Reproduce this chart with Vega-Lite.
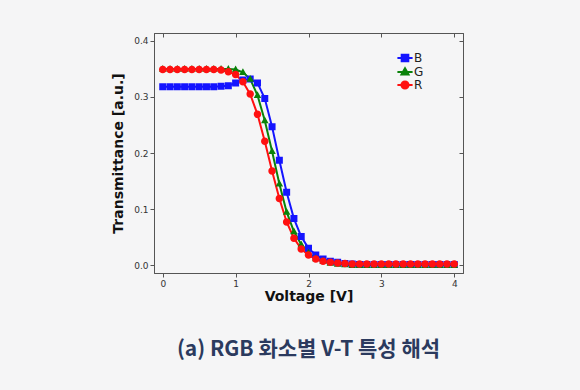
{
"$schema":"https://vega.github.io/schema/vega-lite/v6.json",
"width":309,"height":240,
"autosize":{"type":"none"},
"padding":{"left":154,"top":33,"right":117,"bottom":117},
"background":"#f5f5f6",
"title":{"text":"(a) RGB 화소별 V-T 특성 해석","orient":"bottom","anchor":"middle","font":"Noto Sans CJK KR","fontSize":21,"fontWeight":"bold","color":"#2b3a5e","offset":36},
"config":{
 "view":{"stroke":"#555","strokeWidth":1},
 "axis":{"grid":false,"domainColor":"#555","tickColor":"#555","tickSize":4,"labelFont":"DejaVu Sans","labelFontSize":9,"labelColor":"#333","titleFont":"DejaVu Sans","titleFontSize":14,"titleFontWeight":"bold","titleColor":"#111"},
 "legend":{"title":null,"orient":"none","legendX":245,"legendY":19,"symbolSize":90,"symbolStrokeWidth":2,"labelFont":"DejaVu Sans","labelFontSize":12,"labelColor":"#222","rowPadding":-8,"labelOffset":3}
},
"datasets":{"d":[
{"v":0,"s":"B","t":0.318},{"v":0.1,"s":"B","t":0.318},{"v":0.2,"s":"B","t":0.318},{"v":0.3,"s":"B","t":0.318},{"v":0.4,"s":"B","t":0.318},{"v":0.5,"s":"B","t":0.318},{"v":0.6,"s":"B","t":0.318},{"v":0.7,"s":"B","t":0.318},{"v":0.8,"s":"B","t":0.319},{"v":0.9,"s":"B","t":0.32},{"v":1.0,"s":"B","t":0.325},{"v":1.1,"s":"B","t":0.33},{"v":1.2,"s":"B","t":0.332},{"v":1.3,"s":"B","t":0.325},{"v":1.4,"s":"B","t":0.297},{"v":1.5,"s":"B","t":0.247},{"v":1.6,"s":"B","t":0.187},{"v":1.7,"s":"B","t":0.13},{"v":1.8,"s":"B","t":0.083},{"v":1.9,"s":"B","t":0.051},{"v":2.0,"s":"B","t":0.03},{"v":2.1,"s":"B","t":0.018},{"v":2.2,"s":"B","t":0.011},{"v":2.3,"s":"B","t":0.007},{"v":2.4,"s":"B","t":0.005},{"v":2.5,"s":"B","t":0.003},{"v":2.6,"s":"B","t":0.002},{"v":2.7,"s":"B","t":0.001},{"v":2.8,"s":"B","t":0.001},{"v":2.9,"s":"B","t":0.001},{"v":3.0,"s":"B","t":0.001},{"v":3.1,"s":"B","t":0.001},{"v":3.2,"s":"B","t":0.001},{"v":3.3,"s":"B","t":0.001},{"v":3.4,"s":"B","t":0.001},{"v":3.5,"s":"B","t":0.001},{"v":3.6,"s":"B","t":0.001},{"v":3.7,"s":"B","t":0.001},{"v":3.8,"s":"B","t":0.001},{"v":3.9,"s":"B","t":0.001},{"v":4.0,"s":"B","t":0.001},
{"v":0,"s":"G","t":0.35},{"v":0.1,"s":"G","t":0.35},{"v":0.2,"s":"G","t":0.35},{"v":0.3,"s":"G","t":0.35},{"v":0.4,"s":"G","t":0.35},{"v":0.5,"s":"G","t":0.35},{"v":0.6,"s":"G","t":0.35},{"v":0.7,"s":"G","t":0.35},{"v":0.8,"s":"G","t":0.35},{"v":0.9,"s":"G","t":0.35},{"v":1.0,"s":"G","t":0.349},{"v":1.1,"s":"G","t":0.344},{"v":1.2,"s":"G","t":0.332},{"v":1.3,"s":"G","t":0.303},{"v":1.4,"s":"G","t":0.258},{"v":1.5,"s":"G","t":0.203},{"v":1.6,"s":"G","t":0.145},{"v":1.7,"s":"G","t":0.095},{"v":1.8,"s":"G","t":0.06},{"v":1.9,"s":"G","t":0.037},{"v":2.0,"s":"G","t":0.022},{"v":2.1,"s":"G","t":0.012},{"v":2.2,"s":"G","t":0.007},{"v":2.3,"s":"G","t":0.004},{"v":2.4,"s":"G","t":0.002},{"v":2.5,"s":"G","t":0.001},{"v":2.6,"s":"G","t":0.0},{"v":2.7,"s":"G","t":0.0},{"v":2.8,"s":"G","t":0.0},{"v":2.9,"s":"G","t":0.0},{"v":3.0,"s":"G","t":0.0},{"v":3.1,"s":"G","t":0.0},{"v":3.2,"s":"G","t":0.0},{"v":3.3,"s":"G","t":0.0},{"v":3.4,"s":"G","t":0.0},{"v":3.5,"s":"G","t":0.0},{"v":3.6,"s":"G","t":0.0},{"v":3.7,"s":"G","t":0.0},{"v":3.8,"s":"G","t":0.0},{"v":3.9,"s":"G","t":0.0},{"v":4.0,"s":"G","t":0.0},
{"v":0,"s":"R","t":0.349},{"v":0.1,"s":"R","t":0.349},{"v":0.2,"s":"R","t":0.349},{"v":0.3,"s":"R","t":0.349},{"v":0.4,"s":"R","t":0.349},{"v":0.5,"s":"R","t":0.349},{"v":0.6,"s":"R","t":0.349},{"v":0.7,"s":"R","t":0.349},{"v":0.8,"s":"R","t":0.348},{"v":0.9,"s":"R","t":0.345},{"v":1.0,"s":"R","t":0.34},{"v":1.1,"s":"R","t":0.327},{"v":1.2,"s":"R","t":0.305},{"v":1.3,"s":"R","t":0.269},{"v":1.4,"s":"R","t":0.221},{"v":1.5,"s":"R","t":0.168},{"v":1.6,"s":"R","t":0.119},{"v":1.7,"s":"R","t":0.077},{"v":1.8,"s":"R","t":0.048},{"v":1.9,"s":"R","t":0.029},{"v":2.0,"s":"R","t":0.018},{"v":2.1,"s":"R","t":0.011},{"v":2.2,"s":"R","t":0.007},{"v":2.3,"s":"R","t":0.005},{"v":2.4,"s":"R","t":0.004},{"v":2.5,"s":"R","t":0.003},{"v":2.6,"s":"R","t":0.002},{"v":2.7,"s":"R","t":0.002},{"v":2.8,"s":"R","t":0.002},{"v":2.9,"s":"R","t":0.002},{"v":3.0,"s":"R","t":0.002},{"v":3.1,"s":"R","t":0.002},{"v":3.2,"s":"R","t":0.002},{"v":3.3,"s":"R","t":0.002},{"v":3.4,"s":"R","t":0.002},{"v":3.5,"s":"R","t":0.002},{"v":3.6,"s":"R","t":0.002},{"v":3.7,"s":"R","t":0.002},{"v":3.8,"s":"R","t":0.002},{"v":3.9,"s":"R","t":0.002},{"v":4.0,"s":"R","t":0.002}
]},
"data":{"name":"d"},
"resolve":{"axis":{"x":"independent","y":"independent"}},
"layer":[
 {"mark":{"type":"line","strokeWidth":2},
  "encoding":{
   "x":{"field":"v","type":"quantitative","scale":{"domain":[-0.12,4.12],"nice":false,"zero":false},"axis":{"values":[0,1,2,3,4],"format":"d","title":"Voltage [V]","labelPadding":2,"titlePadding":1}},
   "y":{"field":"t","type":"quantitative","scale":{"domain":[-0.014,0.414],"nice":false,"zero":false},"axis":{"values":[0,0.1,0.2,0.3,0.4],"format":".1f","title":"Transmittance [a.u.]","labelPadding":2,"titlePadding":8}},
   "color":{"field":"s","type":"nominal","scale":{"domain":["B","G","R"],"range":["#1414ff","#0a820a","#ff1010"]}},
   "detail":{"field":"s"}
  }},
 {"mark":{"type":"point","filled":true,"opacity":1,"size":100,"strokeWidth":0},
  "encoding":{
   "x":{"field":"v","type":"quantitative","axis":null},
   "y":{"field":"t","type":"quantitative","axis":null},
   "color":{"field":"s","type":"nominal","scale":{"domain":["B","G","R"],"range":["#1414ff","#0a820a","#ff1010"]}},
   "stroke":{"field":"s","type":"nominal","scale":{"domain":["B","G","R"],"range":["#1414ff","#0a820a","#ff1010"]}},
   "shape":{"field":"s","type":"nominal","scale":{"domain":["B","G","R"],"range":["M-1.6,0H1.6M-0.7,-0.7H0.7V0.7H-0.7Z","M-1.6,0H1.6M0,-0.8L0.75,0.55H-0.75Z","M-1.6,0H1.6M0.75,0A0.75,0.75 0 1,1 -0.75,0A0.75,0.75 0 1,1 0.75,0Z"]}}
  }},
 {"mark":{"type":"point","opacity":0},
  "encoding":{
   "x":{"field":"v","type":"quantitative","axis":{"orient":"top","values":[0,1,2,3,4],"labels":false,"title":null,"tickSize":-4}},
   "y":{"field":"t","type":"quantitative","axis":{"orient":"right","values":[0,0.1,0.2,0.3,0.4],"labels":false,"title":null,"tickSize":-4}}
  }}
]
}
